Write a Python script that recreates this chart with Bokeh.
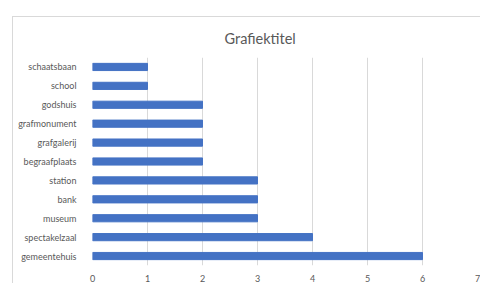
from bokeh.plotting import figure
from bokeh.models import FactorRange, FixedTicker
from bokeh.embed import file_html
from bokeh.resources import INLINE

categories = ["gemeentehuis", "spectakelzaal", "museum", "bank", "station",
              "begraafplaats", "grafgalerij", "grafmonument", "godshuis",
              "school", "schaatsbaan"]
values = [6, 4, 3, 3, 3, 2, 2, 2, 2, 1, 1]
x_ticks = [0, 1, 2, 3, 4, 5, 6, 7]
title_text = "Grafiektitel"

FONT = "Lato"
TXT = "#595959"
GRID = "#d9d9d9"

p = figure(width=468, height=267, output_backend="svg", toolbar_location=None,
           y_range=FactorRange(*categories, range_padding=0), x_range=(0, 7),
           min_border_left=79, min_border_right=4, min_border_top=40,
           min_border_bottom=14, title=title_text)
p.margin = (16, 0, 0, 12)
p.styles = {"border-left": "1px solid #d9d9d9", "border-top": "1px solid #d9d9d9"}
p.title.align = "left"
p.title.offset = 132
p.title.text_font = FONT
p.title.text_font_size = "14.5px"
p.title.text_font_style = "normal"
p.title.text_color = TXT
p.title.standoff = 21

p.hbar(y=categories, right=values, height=0.38, left=0, color="#4472C4")

p.xaxis.ticker = FixedTicker(ticks=x_ticks)
for ax in (p.xaxis[0], p.yaxis[0]):
    ax.axis_line_color = None
    ax.major_tick_line_color = None
    ax.minor_tick_line_color = None
    ax.major_label_text_font = FONT
    ax.major_label_text_font_size = "9px"
    ax.major_label_text_color = TXT
p.xaxis.major_label_standoff = 3
p.yaxis.major_label_standoff = 10
p.xgrid.grid_line_color = GRID
p.ygrid.grid_line_color = None
p.outline_line_color = None

open("out.html", "w").write(file_html(p, INLINE))
